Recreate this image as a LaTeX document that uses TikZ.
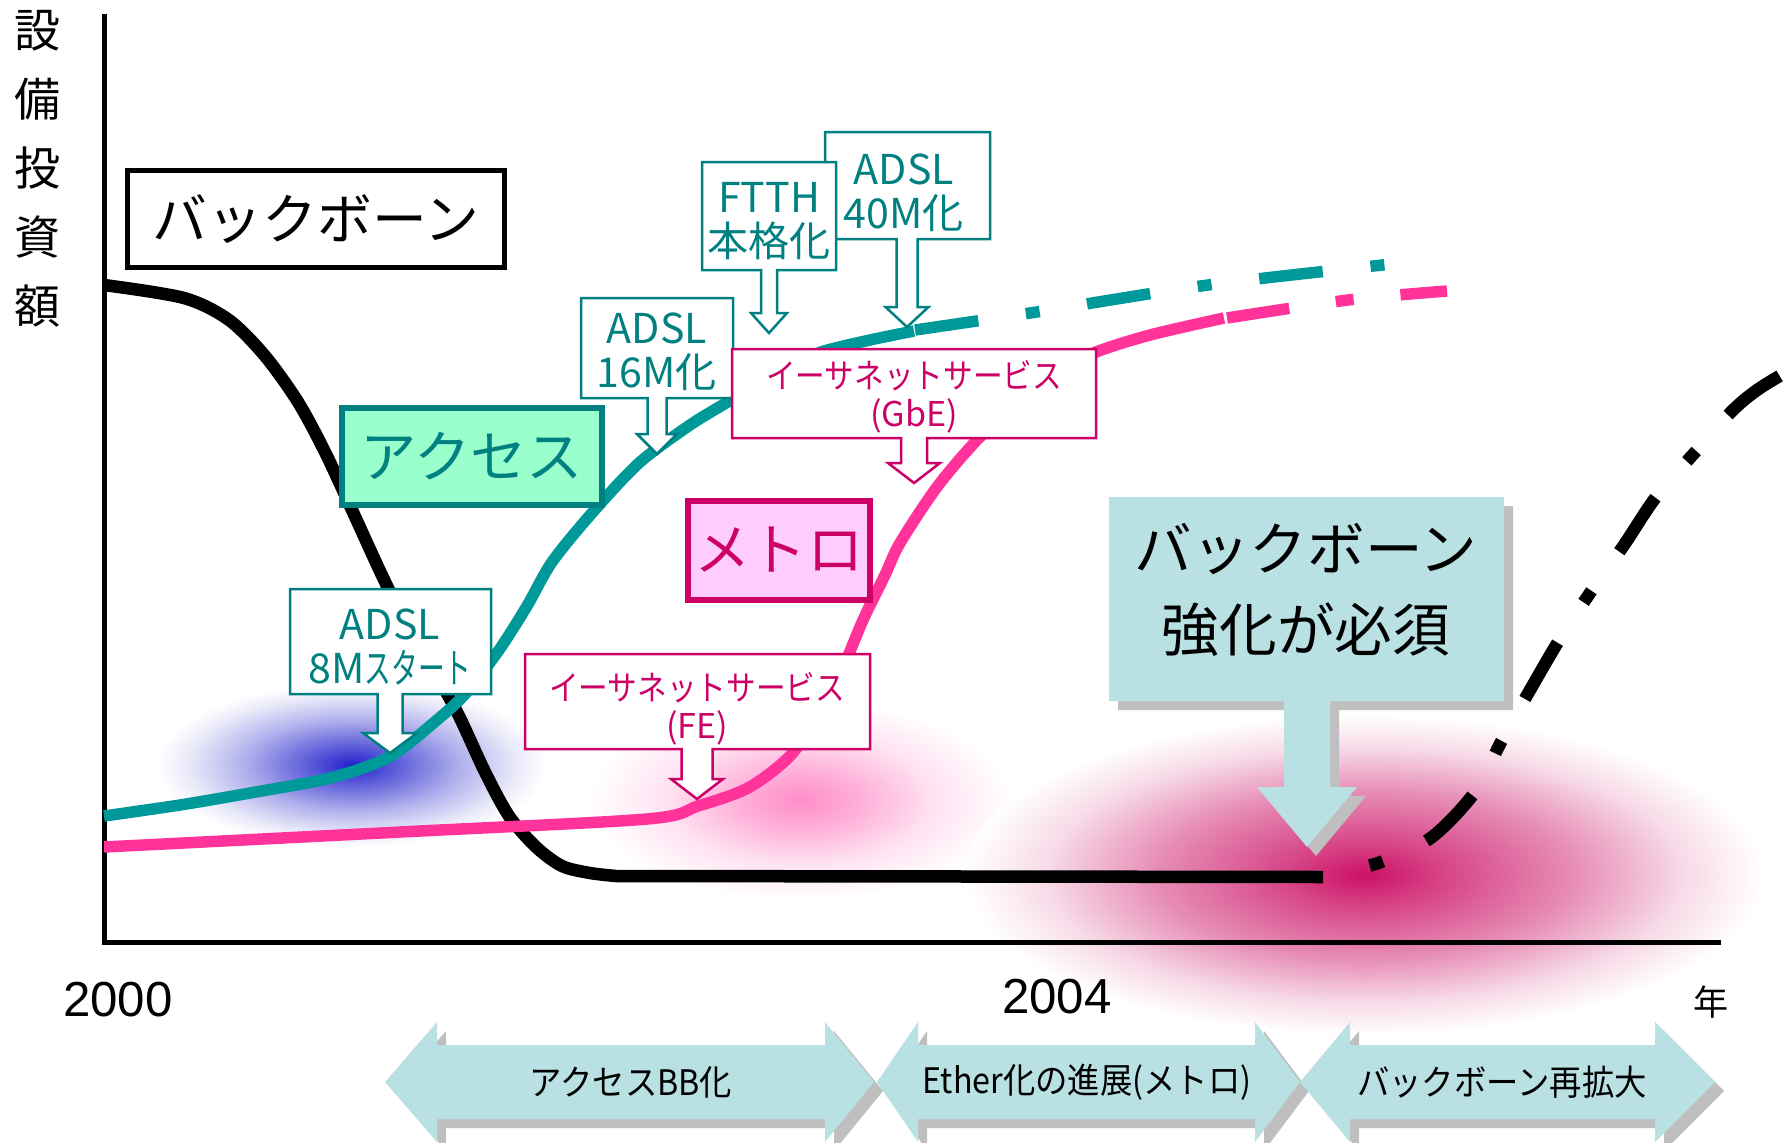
\documentclass[tikz,border=0pt]{standalone}
\usepackage{fontspec}
\newfontfamily\jp{Noto Sans CJK JP}
\newfontfamily\yr{Liberation Sans}
\usetikzlibrary{shadows}
\definecolor{tealtxt}{RGB}{0,128,128}
\definecolor{tealcurve}{RGB}{0,153,153}
\definecolor{pinkcurve}{RGB}{255,51,153}
\definecolor{magtxt}{RGB}{204,0,102}
\definecolor{mintfill}{RGB}{153,255,204}
\definecolor{pinkfill}{RGB}{255,204,255}
\definecolor{cyanfill}{RGB}{185,224,227}
\definecolor{shadowgray}{RGB}{191,191,191}
\definecolor{glowblue}{RGB}{34,34,204}
\definecolor{glowpink}{RGB}{255,140,200}
\definecolor{glowmag}{RGB}{204,17,102}
\pgfdeclareradialshading{blueglow}{\pgfpoint{0bp}{0bp}}{color(0bp)=(glowblue); color(6bp)=(glowblue!72!white); color(14bp)=(glowblue!35!white); color(21bp)=(glowblue!10!white); color(25bp)=(white); color(50bp)=(white)}
\pgfdeclareradialshading{pinkglow}{\pgfpoint{0bp}{0bp}}{color(0bp)=(glowpink); color(7bp)=(glowpink!70!white); color(16bp)=(glowpink!25!white); color(25bp)=(white); color(50bp)=(white)}
\pgfdeclareradialshading{magglow}{\pgfpoint{0bp}{0bp}}{color(0bp)=(glowmag); color(5bp)=(glowmag!78!white); color(13bp)=(glowmag!48!white); color(20bp)=(glowmag!15!white); color(25bp)=(white); color(50bp)=(white)}
\def\callout[#1](#2,#3)(#4,#5)(#6:#7:#8:#9){\draw[#1] (#2,#3) -- (#4,#3) -- (#4,#5) -- ({#6+#7},#5) -- ({#6+#7},{#9-20}) -- ({#6+#8},{#9-20}) -- (#6,#9) -- ({#6-#8},{#9-20}) -- ({#6-#7},{#9-20}) -- ({#6-#7},#5) -- (#2,#5) -- cycle;}
\def\phasearrow[#1](#2:#3:#4:#5){\fill[#1] (#2,1082) -- (#3,1022) -- (#3,1045) -- (#4,1045) -- (#4,1022) -- (#5,1082) -- (#4,1142) -- (#4,1119) -- (#3,1119) -- (#3,1142) -- cycle;}
\tikzset{
  tealbox/.style={draw=tealtxt, fill=white, line width=0.25mm},
  magbox/.style={draw=magtxt, fill=white, line width=0.25mm},
  tealtext/.style={text=tealtxt, inner sep=0pt, align=center, font=\jp\fontsize{11.7}{12.5}\selectfont},
  magtext/.style={text=magtxt, inner sep=0pt, align=center, font=\jp\fontsize{9.7}{10.8}\selectfont},
  phasetext/.style={inner sep=0pt, font=\jp\fontsize{10}{12}\selectfont},
  yeartext/.style={inner sep=0pt, font=\yr\fontsize{14}{16}\selectfont},
  boxshadow/.style={drop shadow={shadow xshift=0.9mm, shadow yshift=-0.9mm, fill=shadowgray, opacity=1}},
  curve/.style={line width=1.15mm}
}
\begin{document}
\begin{tikzpicture}[x=0.1mm, y=-0.1mm, font=\jp, line join=miter]
			%%%%% START %%%%%
			\useasboundingbox (0,0) rectangle (1791,1142);
			\clip (0,0) rectangle (1791,1142);
			
			\shade[shading=blueglow] (352,765) ellipse (195 and 82);
			\shade[shading=pinkglow] (800,800) ellipse (210 and 100);
			\shade[shading=magglow] (1365,875) ellipse (400 and 160);
			
			\draw[line width=0.5mm] (104,14) -- (104,942) -- (1721,942);
			
			\draw[line width=1.25mm] plot[smooth] coordinates {(104,285) (184,298) (229,320) (265,356) (298,402) (325,452) (352,510) (390,592) (425,655) (457,712) (485,772) (509,816) (536,847) (562,866) (590,873) (616,876)} -- (1323,877);
			\draw[line width=1.25mm, dash pattern=on 1.4mm off 4.8mm on 6.5mm off 4.8mm, dash phase=12.7mm] plot[smooth] coordinates {(1323,877) (1381,862) (1432,837) (1475,792) (1501,742) (1530,690) (1561,637) (1592,590) (1624,545) (1656,497) (1697,450) (1733,410) (1760,388) (1800,364)};
			
			\draw[curve, tealcurve] plot[smooth] coordinates {(104,816) (180,805) (250,793) (330,778) (389,757) (437,720) (466,693) (499,650) (527,606) (552,562) (592,513) (639,463) (690,425) (731,400) (780,370) (821,352) (870,340) (914,331)};
			\draw[curve, tealcurve, dash pattern=on 6.4mm off 4.8mm on 1.4mm off 4.8mm] plot[smooth] coordinates {(915,330) (1030,313) (1208,285) (1392,264)};
			
			\draw[curve, pinkcurve] plot[smooth] coordinates {(104,847) (400,832) (647,819) (698,806) (748,788) (789,757) (815,720) (839,677) (863,620) (885,575) (900,543) (937,487) (977,440) (1020,400) (1060,370) (1096,352) (1150,335) (1224,318)};
			\draw[curve, pinkcurve, dash pattern=on 6.3mm off 4.7mm on 1.8mm off 4.7mm] plot[smooth] coordinates {(1227,318) (1348,300) (1447,291)};
			
			\node[draw, line width=0.5mm, minimum width=37.7mm, minimum height=9.7mm, inner sep=0pt, font=\jp\fontsize{15.6}{18}\selectfont] (bbbox) at (316,219) {バックボーン};
			\node[draw=tealtxt, fill=mintfill, text=tealtxt, line width=0.6mm, minimum width=26mm, minimum height=9.7mm, inner sep=0pt, font=\jp\fontsize{16}{18}\selectfont] (accbox) at (472,456) {アクセス};
			\node[draw=magtxt, fill=pinkfill, text=magtxt, line width=0.6mm, minimum width=18.2mm, minimum height=9.9mm, inner sep=0pt, font=\jp\fontsize{16}{18}\selectfont] (metrobox) at (779,550) {メトロ};
			
			\callout[tealbox](290,589)(491,694)(390:12.5:27:753)
			\node[tealtext] (adsl8) at (390,647) {ADSL\\8M\scalebox{0.65}[1]{スタート}};
			\callout[tealbox](581,298)(733,398)(657:9.5:20:454)
			\node[tealtext] (adsl16) at (657,352) {ADSL\\16M化};
			\callout[tealbox](825,132)(990,239)(907:10.5:21.5:327)
			\node[tealtext] (adsl40) at (904,193) {ADSL\\40M化};
			\callout[tealbox](702,162)(836,270)(769:8:18:333)
			\node[tealtext] (ftth) at (769,221) {FTTH\\本格化};
			\callout[magbox](732,349)(1096,438)(914:13:26:483)
			\node[magtext] (gbe) at (914,397) {\scalebox{0.87}[1]{イーサネットサービス}\\(GbE)};
			\callout[magbox](525,654)(870,749)(697:15.5:26:799)
			\node[magtext] (fe) at (697,709) {\scalebox{0.87}[1]{イーサネットサービス}\\(FE)};
			
			\fill[cyanfill, boxshadow] (1109,497) -- (1504,497) -- (1504,701) -- (1330,701) -- (1330,787) -- (1357,787) -- (1307,847) -- (1257,787) -- (1284,787) -- (1284,701) -- (1109,701) -- cycle;
			\node[inner sep=0pt, align=center, font=\jp\fontsize{16.4}{22.8}\selectfont] (bbmust) at (1306,590) {バックボーン\\強化が必須};
			
			\node[inner sep=0pt, align=center, font=\jp\fontsize{13.1}{19.6}\selectfont] (ylabel) at (38,169) {設\\備\\投\\資\\額};
			\node[yeartext] (yr2000) at (118,1000) {2000};
			\node[yeartext] (yr2004) at (1057,997) {2004};
			\node[inner sep=0pt, font=\jp\fontsize{10}{12}\selectfont] (nen) at (1711,1002) {年};
			
			\phasearrow[cyanfill, boxshadow](385:437:825:874)
			\node[phasetext] (phase1) at (631,1082) {\scalebox{0.92}[1]{アクセスBB化}};
			\phasearrow[cyanfill, boxshadow](877:918:1255:1300)
			\node[phasetext] (phase2) at (1087,1082) {\scalebox{0.92}[1]{Ether化の進展(メトロ)}};
			\phasearrow[cyanfill, boxshadow](1300:1350:1655:1715)
			\node[phasetext] (phase3) at (1502,1082) {\scalebox{0.92}[1]{バックボーン再拡大}};
			
			%%%%% END %%%%%
\end{tikzpicture}
\end{document}
